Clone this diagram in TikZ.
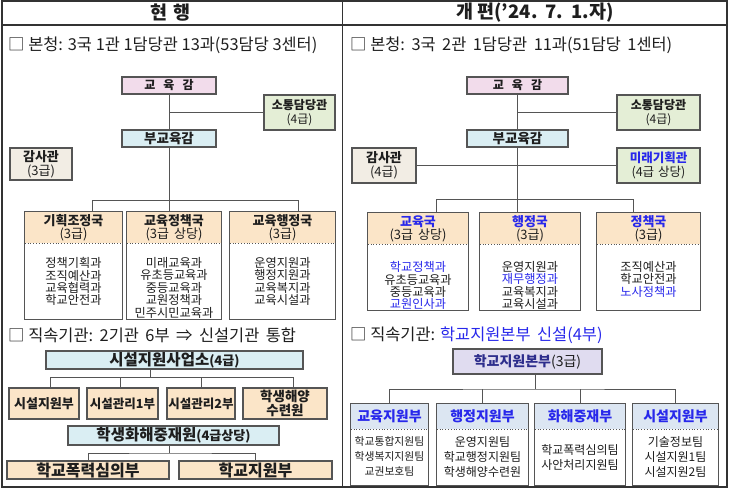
\documentclass[tikz,border=0pt]{standalone}
\usepackage{fontspec}
\setmainfont{Noto Sans CJK KR}
\usetikzlibrary{calc}
\definecolor{pinkf}{RGB}{242,220,235}
\definecolor{greenf}{RGB}{228,238,214}
\definecolor{bluef}{RGB}{218,238,243}
\definecolor{beigef}{RGB}{242,237,228}
\definecolor{peachf}{RGB}{251,229,200}
\definecolor{lavf}{RGB}{224,220,240}
\definecolor{bgrayf}{RGB}{220,230,242}
\definecolor{bluetxt}{RGB}{40,40,235}
\definecolor{navytxt}{RGB}{45,45,140}
\definecolor{boxgray}{RGB}{85,85,85}
\definecolor{txt}{RGB}{30,30,30}
\newcommand\fs[1]{\fontsize{#1}{#1}\selectfont}
\newcommand\hdrfont{\fontsize{13}{13}\selectfont}
\newcommand\wsp{\hspace{6.5pt}}
\tikzset{
 conn/.style={draw=boxgray, line width=1},
 frame/.style={draw=boxgray, line width=1.3},
 tframe/.style={draw=black!80, line width=1.2},
 bx/.style={frame, inner sep=0, align=center, text=txt},
 plain/.style={inner sep=0, align=center, text=txt},
 sepline/.style={draw=boxgray, line width=0.8, dotted},
 sect/.style={inner sep=0, anchor=west, text=txt, font=\fs{16.4}},
 lst/.style={inner sep=0, align=center, text=txt, font=\fontsize{12.2}{12.4}\selectfont},
}
\newcommand\rbox[7]{\node[#6,minimum width={#4-#2},minimum height={#5-#3}] (#1) at ({(#2+#4)/2},{(#3+#5)/2}) {#7};}
\newcommand\dept[9]{%
 \rbox{#1}{#2}{#3}{#4}{#5}{plain,fill=#7,font=\hdrfont}{#8}
 \rbox{#1b}{#2}{#5}{#4}{#6}{plain,fill=white}{}
 \draw[sepline] (#1.south west) -- (#1.south east);
 \draw[frame] (#1.north west) rectangle (#1b.south east);
 \node[lst,anchor=north] (#1t) at ($(#1b.north)+(0,\bodyoff)$) {#9};
}
\begin{document}
\begin{tikzpicture}[x=1pt,y=-1pt]
\useasboundingbox (0,0) rectangle (730,489);
% table frame
\draw[tframe] (2,1) rectangle (727,487);
\draw[tframe] (342.5,1) -- (342.5,487);
\draw[tframe] (2,25) -- (727,25);
\node[plain,font=\bfseries\fs{18.5}] (Lhead) at (171,13) {현\hspace{6pt}행};
\node[plain,font=\bfseries\fs{18.5}] (Rhead) at (535,13) {개\hspace{4pt}편(’24.\hspace{8pt}7.\hspace{8pt}1.자)};
% ---------------- LEFT ----------------
\node[sect] (Ls1) at (8,45) {□ 본청: 3국 1관 1담당관 13과(53담당 3센터)};
\rbox{Lgyo}{122}{77}{216}{94}{bx,fill=pinkf,font=\bfseries\fs{12}}{교\hspace{8pt}육\hspace{8pt}감}
\rbox{Lso}{264}{95}{335}{130}{bx,fill=greenf,font=\fontsize{12}{14}\selectfont}{\textbf{소통담당관}\\(4급)}
\rbox{Lbu}{122}{130}{216}{147}{bx,fill=bluef,font=\bfseries\fs{13.5}}{부교육감}
\rbox{Lgam}{10}{148}{72}{180}{bx,fill=beigef,font=\fontsize{13}{14}\selectfont}{\textbf{감사관}\\(3급)}
\def\bodyoff{14.5}
\dept{Ld1}{25}{212}{122}{243}{319}{peachf}{\textbf{기획조정국}\\(3급)}{정책기획과\\조직예산과\\교육협력과\\학교안전과}
\dept{Ld2}{127}{212}{221}{243}{319}{peachf}{\textbf{교육정책국}\\(3급\hspace{5pt}상당)}{미래교육과\\유초등교육과\\중등교육과\\교원정책과\\민주시민교육과}
\dept{Ld3}{230}{212}{335}{243}{319}{peachf}{\textbf{교육행정국}\\(3급)}{운영지원과\\행정지원과\\교육복지과\\교육시설과}
\draw[conn] (Lgyo.south) -- (Lbu.north);
\draw[conn] (Lso.west) -- (Lso.west -| Lgyo.south);
\draw[conn] ($(Lgam.east)+(0,4)$) -- ($(Lgam.east)+(0,4)$ -| Lbu.south);
\coordinate (Lja) at (92,200);
\coordinate (Ljc) at (298,200);
\draw[conn] (Lbu.south) -- (Lbu.south |- Ld2.north);
\draw[conn] (Lja |- Ld1.north) -- (Lja) -- (Ljc) -- (Ljc |- Ld3.north);
% attached institutions
\node[sect] (Ls2) at (8,335) {□ 직속기관:\wsp 2기관\wsp 6부\wsp ⇒\wsp 신설기관\wsp 통합};
\rbox{Lsis}{46}{351}{303}{369}{bx,fill=bluef,font=\bfseries\fs{15.5}}{시설지원사업소{\fs{13}(4급)}}
\rbox{Lf1}{9}{388}{79}{419}{bx,fill=peachf,font=\bfseries\fs{13}}{시설지원부}
\rbox{Lf2}{87}{388}{158}{419}{bx,fill=peachf,font=\bfseries\fs{12.5}}{시설관리1부}
\rbox{Lf3}{167}{388}{235}{419}{bx,fill=peachf,font=\bfseries\fs{12.5}}{시설관리2부}
\rbox{Lf4}{243}{388}{327}{419}{bx,fill=peachf,font=\bfseries\fontsize{13.5}{14}\selectfont}{학생해양\\수련원}
\coordinate (Lsj) at (150,377);
\coordinate (Lsa) at (50,377);
\coordinate (Lsb) at (120,377);
\coordinate (Lsc) at (201,377);
\coordinate (Lsd) at (293,377);
\draw[conn] (Lsj |- Lsis.south) -- (Lsj);
\draw[conn] (Lsa |- Lf1.north) -- (Lsa) -- (Lsd) -- (Lsd |- Lf4.north);
\draw[conn] (Lsb) -- (Lsb |- Lf2.north);
\draw[conn] (Lsc) -- (Lsc |- Lf3.north);
\rbox{Lhw}{68}{426}{279}{445}{bx,fill=bluef,font=\bfseries\fs{15.5}}{학생화해중재원{\fs{13}(4급상당)}}
\rbox{Lhp}{7}{461}{169}{479}{bx,fill=peachf,font=\bfseries\fs{16}}{학교폭력심의부}
\rbox{Lhs}{179}{461}{332}{479}{bx,fill=peachf,font=\bfseries\fs{16}}{학교지원부}
\coordinate (Lhj) at (169,453);
\draw[conn] (Lhj |- Lhw.south) -- (Lhj);
\draw[conn] (Lhp.north) |- (Lhj) -| (Lhs.north);
% ---------------- RIGHT ----------------
\node[sect] (Rs1) at (350,45) {□ 본청:\wsp 3국\wsp 2관\wsp 1담당관\wsp 11과(51담당\wsp 1센터)};
\rbox{Rgyo}{467}{77}{568}{94}{bx,fill=pinkf,font=\bfseries\fs{12}}{교\hspace{8pt}육\hspace{8pt}감}
\rbox{Rso}{617}{95}{700}{130}{bx,fill=greenf,font=\fontsize{12}{14}\selectfont}{\textbf{소통담당관}\\(4급)}
\rbox{Rbu}{467}{130}{568}{147}{bx,fill=bluef,font=\bfseries\fs{13.5}}{부교육감}
\rbox{Rgam}{352}{148}{416}{183}{bx,fill=beigef,font=\fontsize{13}{14}\selectfont}{\textbf{감사관}\\(4급)}
\rbox{Rmi}{617}{148}{700}{183}{bx,fill=greenf,font=\fontsize{12.5}{14}\selectfont}{\textbf{\textcolor{bluetxt}{미래기획관}}\\(4급\hspace{4pt}상당)}
\def\bodyoff{17.5}
\dept{Rd1}{368}{213}{468}{244}{310}{peachf}{\textbf{\textcolor{bluetxt}{교육국}}\\(3급\hspace{5pt}상당)}{\textcolor{bluetxt}{학교정책과}\\유초등교육과\\중등교육과\\\textcolor{bluetxt}{교원인사과}}
\dept{Rd2}{480}{213}{580}{244}{310}{peachf}{\textbf{\textcolor{bluetxt}{행정국}}\\(3급)}{운영지원과\\\textcolor{bluetxt}{재무행정과}\\교육복지과\\교육시설과}
\dept{Rd3}{597}{213}{700}{244}{310}{peachf}{\textbf{\textcolor{bluetxt}{정책국}}\\(3급)}{조직예산과\\학교안전과\\\textcolor{bluetxt}{노사정책과}}
\draw[conn] (Rgyo.south) -- (Rbu.north);
\draw[conn] (Rso.west) -- (Rso.west -| Rgyo.south);
\draw[conn] (Rgam.east) -- (Rmi.west);
\coordinate (Rja) at (436,199);
\coordinate (Rjc) at (633,199);
\draw[conn] (Rbu.south) -- (Rbu.south |- Rd2.north);
\draw[conn] (Rja |- Rd1.north) -- (Rja) -- (Rjc) -- (Rjc |- Rd3.north);
% attached institution
\node[sect] (Rs2) at (350,335) {□ 직속기관: \textcolor{bluetxt}{학교지원본부\wsp 신설(4부)}};
\rbox{Rhq}{453}{349}{602}{374}{bx,fill=lavf,font=\fs{14}}{\textbf{\textcolor{navytxt}{학교지원본부}}(3급)}
\renewcommand\hdrfont{\bfseries\fontsize{14}{14}\selectfont}
\tikzset{lst/.style={inner sep=0, align=center, text=txt, font=\fontsize{10.8}{15}\selectfont}}
\def\bodyoff{7.5}
\dept{Rb1}{351}{404}{428}{429}{485}{bgrayf}{\textcolor{bluetxt}{교육지원부}}{학교통합지원팀\\학생복지지원팀\\교권보호팀}
\tikzset{lst/.style={inner sep=0, align=center, text=txt, font=\fontsize{12}{15}\selectfont}}
\dept{Rb2}{437}{404}{528}{429}{485}{bgrayf}{\textcolor{bluetxt}{행정지원부}}{운영지원팀\\학교행정지원팀\\학생해양수련원}
\def\bodyoff{15.5}
\dept{Rb3}{535}{404}{625}{429}{485}{bgrayf}{\textcolor{bluetxt}{화해중재부}}{학교폭력심의팀\\사안처리지원팀}
\def\bodyoff{7.5}
\dept{Rb4}{633}{404}{718}{429}{485}{bgrayf}{\textcolor{bluetxt}{시설지원부}}{기술정보팀\\시설지원1팀\\시설지원2팀}
\coordinate (Rhj) at (535,389);
\draw[conn] (Rhj |- Rhq.south) -- (Rhj);
\draw[conn] (Rb1.north) |- (Rhj) -| (Rb4.north);
\draw[conn] (Rb2.north) -- (Rb2.north |- Rhj);
\draw[conn] (Rb3.north) -- (Rb3.north |- Rhj);
\end{tikzpicture}
\end{document}
